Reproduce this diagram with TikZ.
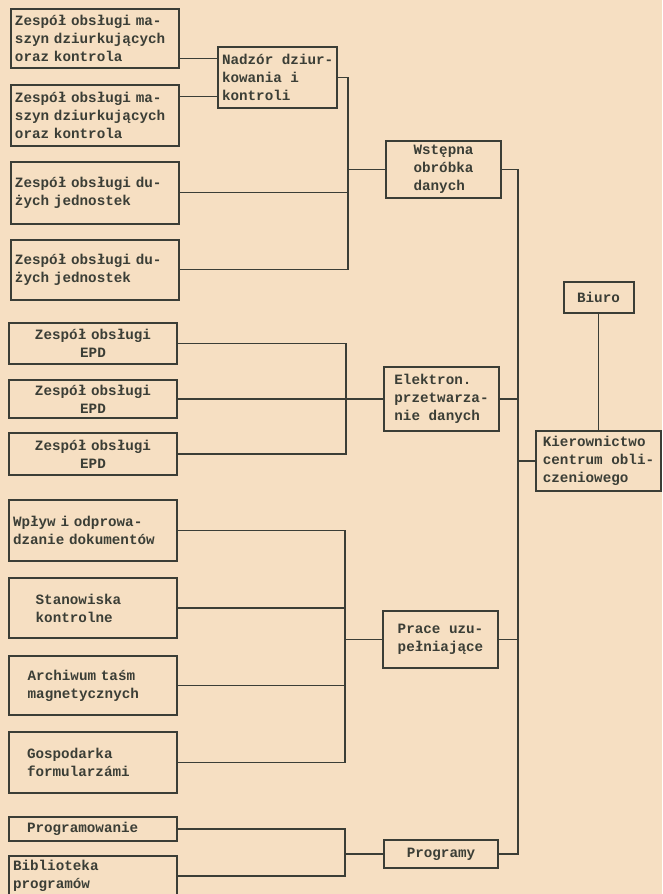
\documentclass[tikz,border=0pt]{standalone}
\usepackage{fontspec}
\setmonofont{Liberation Mono}
\usetikzlibrary{positioning}
\definecolor{Paper}{HTML}{F6DFC2}
\definecolor{Ink}{HTML}{3B3E36}
\begin{document}
\begin{tikzpicture}[x=0.75pt, y=-0.75pt, Ink, line width=1.1pt, font=\ttfamily\bfseries\fontsize{10.7}{13.5}\selectfont]
\tikzset{box/.style={draw=Ink, line width=1.5pt, inner sep=3pt, fill=Paper}, unit/.style={box, anchor=north west, text width=120pt, align=left}, epd/.style={unit, align=center}, mid/.style={box, anchor=north west, align=left, minimum width=86.25pt, minimum height=42.75pt}}
\fill[Paper] (0,0) rectangle (662,894);
\useasboundingbox (0,0) rectangle (662,894);
% punch units
\node[unit, minimum height=44pt] (zes1) at (10,8) {Zespół obsługi ma-\\szyn dziurkujących\\oraz kontrola};
\node[unit, minimum height=45.75pt, below=11.25pt of zes1] (zes2) {Zespół obsługi ma-\\szyn dziurkujących\\oraz kontrola};
\node[unit, minimum height=46.5pt, below=10.5pt of zes2] (zes3) {Zespół obsługi du-\\żych jednostek};
\node[unit, minimum height=45pt, below=10.5pt of zes3] (zes4) {Zespół obsługi du-\\żych jednostek};
% EPD units
\node[epd, minimum height=30.75pt] (epd1) at (8,322) {Zespół obsługi\\EPD};
\node[epd, minimum height=28.5pt, below=10.5pt of epd1] (epd2) {Zespół obsługi\\EPD};
\node[epd, minimum height=31.5pt, below=9.75pt of epd2] (epd3) {Zespół obsługi\\EPD};
% support units
\node[unit, minimum height=45.75pt] (wplyw) at (8,499) {Wpływ i odprowa-\\dzanie dokumentów};
\node[unit, minimum height=45pt, below=11.25pt of wplyw] (stan) {\hspace*{17pt}Stanowiska\\\hspace*{17pt}kontrolne};
\node[unit, minimum height=44.25pt, below=12pt of stan] (arch) {\hspace*{11pt}Archiwum taśm\\\hspace*{11pt}magnetycznych};
\node[unit, minimum height=45.75pt, below=11.25pt of arch] (gosp) {\hspace*{10.5pt}Gospodarka\\\hspace*{10.5pt}formularzámi};
\node[unit, minimum height=18pt] (progr) at (8,816) {\hspace*{10.5pt}Programowanie};
\node[unit, minimum height=30pt, below=9.75pt of progr] (bibl) {Biblioteka\\programów};
% departments
\node[mid, minimum width=84.75pt, minimum height=45.75pt] (nadzor) at (217,46) {Nadzór dziur-\\kowania i\\kontroli};
\node[mid] (wstep) at (385,140) {Wstępna\\obróbka\\danych};
\node[mid, minimum height=48pt] (elek) at (383,366) {Elektron.\\przetwarza-\\nie danych};
\node[mid] (prace) at (382,610) {Prace uzu-\\pełniające};
\node[mid, minimum width=85.5pt, minimum height=21pt, align=center] (progs) at (383,839) {Programy};
\node[mid, minimum width=93.75pt, minimum height=45pt] (kier) at (535,430) {Kierownictwo\\centrum obli-\\czeniowego};
\node[box, minimum width=52.5pt, minimum height=23.25pt, above=87pt of kier] (biuro) {Biuro};
% buses
\coordinate (busA) at (348,0); \coordinate (busB) at (346,0); \coordinate (busC) at (345,0); \coordinate (busM) at (518,0);
\draw ([yshift=7.5pt]zes1.south east) coordinate (a1) -- (a1 -| nadzor.west); \draw ([yshift=-9.75pt]zes2.north east) coordinate (a2) -- (a2 -| nadzor.west);
\draw (nadzor.east) -| (busA |- zes4.east) -- (zes4.east); \draw (zes3.east) -- (zes3.east -| busA); \draw (busA |- wstep.west) -- (wstep.west);
\draw (epd1.east) -| (busB |- epd3.east) -- (epd3.east); \draw (epd2.east) -- (epd2.east -| elek.west);
\draw (wplyw.east) -| (busC |- gosp.east) -- (gosp.east); \draw (stan.east) -- (stan.east -| busC); \draw (arch.east) -- (arch.east -| busC); \draw (busC |- prace.west) -- (prace.west);
\draw (progr.east) -| (busC |- bibl.east) -- (bibl.east); \draw (busC |- progs.west) -- (progs.west);
\draw (wstep.east) -| (busM |- progs.east) -- (progs.east); \draw (elek.east) -- (elek.east -| busM); \draw (prace.east) -- (prace.east -| busM); \draw (busM |- kier.west) -- (kier.west);
\draw (biuro.south) -- (biuro.south |- kier.north);
\end{tikzpicture}
\end{document}
